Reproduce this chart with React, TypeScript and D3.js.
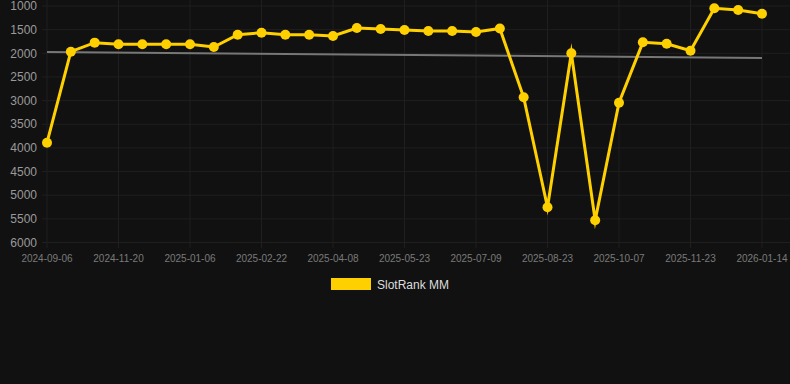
import React from "react";
import * as d3 from "d3";

const categories = [
  "2024-09-06", "2024-10-20", "2024-11-05", "2024-11-20", "2024-12-05", "2024-12-21",
  "2025-01-06", "2025-01-21", "2025-02-06", "2025-02-22", "2025-03-09", "2025-03-24",
  "2025-04-08", "2025-04-23", "2025-05-08", "2025-05-23", "2025-06-08", "2025-06-23",
  "2025-07-09", "2025-07-24", "2025-08-08", "2025-08-23", "2025-09-07", "2025-09-22",
  "2025-10-07", "2025-10-23", "2025-11-07", "2025-11-23", "2025-12-10", "2025-12-27",
  "2026-01-14",
];

const slotRank = [
  3890, 1966, 1775, 1810, 1810, 1810, 1810, 1867, 1607, 1564,
  1607, 1607, 1634, 1465, 1486, 1507, 1528, 1528, 1550, 1476,
  2931, 5256, 2000, 5531, 3044, 1768, 1797, 1945, 1049, 1085,
  1163,
];

const trendValues = [1972, 2099];

const yTicks = [1000, 1500, 2000, 2500, 3000, 3500, 4000, 4500, 5000, 5500, 6000];
const xTickLabels = [
  "2024-09-06", "2024-11-20", "2025-01-06", "2025-02-22", "2025-04-08", "2025-05-23",
  "2025-07-09", "2025-08-23", "2025-10-07", "2025-11-23", "2026-01-14",
];

const W = 790;
const H = 384;
const FONT = "Helvetica, Arial, 'Liberation Sans', sans-serif";

export default function App() {
  const x = d3.scalePoint<string>().domain(categories).range([47, 762]);
  const y = d3.scaleLinear().domain([1000, 6000]).range([6, 242.5]);

  const line = d3
    .line<number>()
    .x((_, i) => x(categories[i]) as number)
    .y((d) => y(d));

  const trendLine = d3
    .line<number>()
    .x((_, i) => (i === 0 ? (x(categories[0]) as number) : (x(categories[categories.length - 1]) as number)))
    .y((d) => y(d));

  const grid = "#1f1f1f";

  return (
    <svg
      width={W}
      height={H}
      style={{ position: "fixed", left: 0, top: 0, background: "#111111", display: "block" }}
    >
      <rect x={0} y={0} width={W} height={H} fill="#111111" />
      {yTicks.map((t) => (
        <g key={"y" + t}>
          <line x1={42} x2={W} y1={y(t)} y2={y(t)} stroke={grid} strokeWidth={1} />
          <text
            x={37}
            y={y(t)}
            dy="0.35em"
            textAnchor="end"
            fill="#9a9a9a"
            fontSize={12}
            fontFamily={FONT}
          >
            {t}
          </text>
        </g>
      ))}
      {xTickLabels.map((lab) => {
        const px = x(lab) as number;
        return (
          <g key={"x" + lab}>
            <line x1={px} x2={px} y1={0} y2={248} stroke={grid} strokeWidth={1} />
            <text
              x={px}
              y={262}
              textAnchor="middle"
              fill="#7a7a7a"
              fontSize={10}
              fontFamily={FONT}
            >
              {lab}
            </text>
          </g>
        );
      })}
      <path
        d={trendLine(trendValues) as string}
        fill="none"
        stroke="#777777"
        strokeWidth={2}
      />
      <path
        d={line(slotRank) as string}
        fill="none"
        stroke="#FFD000"
        strokeWidth={3}
        strokeLinejoin="miter"
        strokeMiterlimit={10}
      />
      {slotRank.map((v, i) => (
        <circle
          key={"p" + i}
          cx={x(categories[i]) as number}
          cy={y(v)}
          r={5}
          fill="#FFD000"
        />
      ))}
      <rect x={331} y={278} width={40} height={12} fill="#FFD000" />
      <text x={377} y={288.5} fill="#dddddd" fontSize={12} fontFamily={FONT}>
        SlotRank MM
      </text>
    </svg>
  );
}
